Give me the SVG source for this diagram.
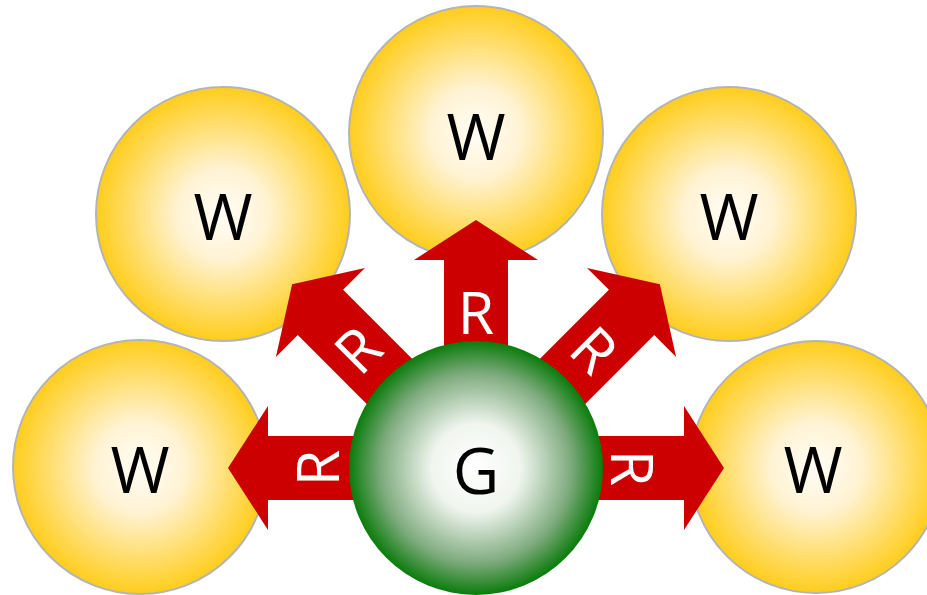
<svg xmlns="http://www.w3.org/2000/svg" width="927" height="595" viewBox="0 0 927 595">
<defs>
<radialGradient id="gold" cx="50%" cy="50%" r="50%">
<stop offset="0" stop-color="#fffdf6"/>
<stop offset="0.35" stop-color="#fff3d4"/>
<stop offset="1" stop-color="#ffcd1c"/>
</radialGradient>
<radialGradient id="green" cx="50%" cy="50%" r="50%">
<stop offset="0" stop-color="#ffffff"/>
<stop offset="0.35" stop-color="#f0f5ee"/>
<stop offset="0.75" stop-color="#7daa7d"/>
<stop offset="1" stop-color="#0a7c0a"/>
</radialGradient>
<polygon id="arr" points="0,-32 208,-32 208,-62 248,0 208,62 208,32 0,32"/>
<polygon id="arrd" points="0,-32 220,-32 220,-63 260,0 220,63 220,32 0,32"/>
</defs>
<style>
.w{fill:url(#gold);stroke:#b4b4b4;stroke-width:2}
.g{fill:url(#green)}
.lbl{font-family:"Open Sans","Noto Sans",sans-serif;font-size:64px;fill:#000;text-anchor:middle}
.r{font-family:"Open Sans","Noto Sans",sans-serif;font-size:59px;fill:#fff;text-anchor:middle}
.a{fill:#cc0000}
</style>
<g id="w-top"><circle class="w" cx="476" cy="133" r="127"/><text class="lbl" x="476" y="160">W</text></g>
<g id="w-upleft"><circle class="w" cx="223" cy="214" r="127"/><text class="lbl" x="223" y="240">W</text></g>
<g id="w-upright"><circle class="w" cx="729" cy="214" r="127"/><text class="lbl" x="729" y="240">W</text></g>
<g id="w-left"><circle class="w" cx="140" cy="467" r="127"/><text class="lbl" x="140" y="493">W</text></g>
<g id="w-right"><circle class="w" cx="816" cy="467" r="126"/><text class="lbl" x="813" y="493">W</text></g>
<g id="connectors">
<g transform="translate(476,468)">
<use href="#arr" class="a" transform="rotate(180)"/>
<use href="#arr" class="a" transform="rotate(0)"/>
<use href="#arr" class="a" transform="rotate(-90)"/>
<use href="#arrd" class="a" transform="rotate(-135)"/>
<use href="#arrd" class="a" transform="rotate(-45)"/>
<g transform="rotate(180) translate(158,0) rotate(90)"><text class="r" x="0" y="21">R</text></g>
<g transform="rotate(0) translate(156,0) rotate(90)"><text class="r" x="0" y="21">R</text></g>
<g transform="rotate(-90) translate(155,0) rotate(90)"><text class="r" x="0" y="21">R</text></g>
<g transform="rotate(-135) translate(167,0) rotate(90)"><text class="r" x="0" y="21">R</text></g>
<g transform="rotate(-45) translate(167,0) rotate(90)"><text class="r" x="0" y="21">R</text></g>
</g>
</g>
<g id="g-node"><circle class="g" cx="476" cy="468" r="127"/><text class="lbl" x="476" y="494">G</text></g>
</svg>
